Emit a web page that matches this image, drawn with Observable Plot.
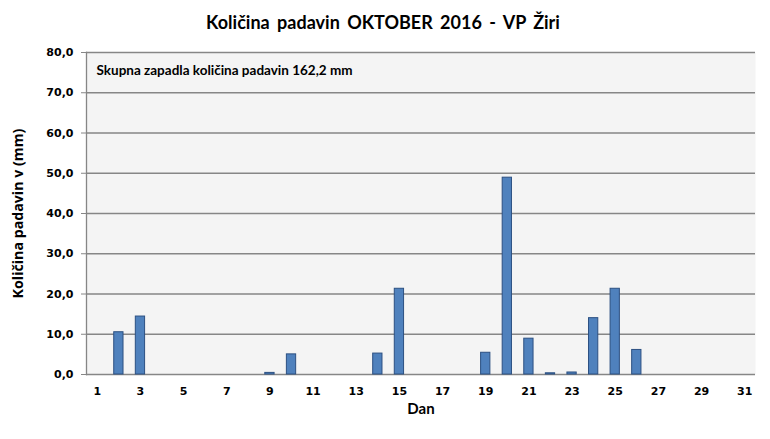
<!DOCTYPE html>
<html><head><meta charset="utf-8">
<script src="https://cdn.jsdelivr.net/npm/d3@7"></script>
<script src="https://cdn.jsdelivr.net/npm/@observablehq/plot@0.6"></script>
<style>
body{margin:0;background:#fff;}
#title{width:770px;height:40px;line-height:44px;text-align:center;font-family:Lato,"Open Sans",sans-serif;font-weight:bold;font-size:18px;word-spacing:3px;color:#000;padding-right:4px;box-sizing:border-box;}
</style></head>
<body>
<div id="title">Količina padavin OKTOBER 2016 - VP Žiri</div>
<div id="chart"></div>
<script>
const days = [1,2,3,4,5,6,7,8,9,10,11,12,13,14,15,16,17,18,19,20,21,22,23,24,25,26,27,28,29,30,31];
const rain = [0,10.5,14.4,0,0,0,0,0,0.4,5.0,0,0,0,5.2,21.3,0,0,0,5.4,48.9,8.9,0.3,0.5,14.0,21.3,6.1,0,0,0,0,0];
const xTicks = [1,3,5,7,9,11,13,15,17,19,21,23,25,27,29,31];
const yTicks = [0,10,20,30,40,50,60,70,80];
const annotation = "Skupna zapadla količina padavin 162,2 mm";
const yLabel = "Količina padavin v (mm)";
const xLabel = "Dan";

const data = days.map((d,i)=>({day:d, value:rain[i]})).filter(d=>d.value>0);
const grid = "#868686";
const fontB = {fontWeight:"bold", fill:"#000"};

const chart = Plot.plot({
  width:770, height:399,
  marginLeft:86, marginRight:15, marginTop:12, marginBottom:65,
  style:{fontFamily:"'DejaVu Sans', sans-serif", fontSize:"11px", background:"#fff", color:"#000"},
  x:{type:"band", domain:days, paddingInner:0.57, paddingOuter:0.285, round:false},
  y:{domain:[0,80]},
  marks:[
    Plot.frame({fill:"#f4f4f4", stroke:"none"}),
    Plot.gridY(yTicks.filter(t=>t>0), {stroke:grid, strokeOpacity:1, strokeWidth:1.3}),
    Plot.ruleY([0], {stroke:grid, strokeWidth:1.3}),
    Plot.frame({anchor:"left", stroke:grid, strokeWidth:1.3}),
    Plot.barY(data, {x:"day", y:"value", fill:"#4f81bd", stroke:"#2c5082", strokeWidth:1}),
    Plot.axisY({ticks:yTicks, tickFormat:d=>d.toFixed(1).replace(".",","), tickSize:5, tickPadding:8, stroke:grid, fontWeight:"bold", label:null}),
    Plot.axisX({ticks:xTicks, tickSize:0, tickPadding:13, fontWeight:"bold", fontSize:11, label:null}),
    Plot.text([xLabel], {frameAnchor:"bottom", dy:39, fontSize:15, fontFamily:"Lato, sans-serif", ...fontB}),
    Plot.text([yLabel], {frameAnchor:"left", dx:-68, rotate:-90, textAnchor:"middle", fontSize:14.2, fontFamily:"'Open Sans', sans-serif", ...fontB}),
    Plot.text([annotation], {frameAnchor:"top-left", dx:10, dy:13, textAnchor:"start", fontSize:13.5, fontFamily:"Lato, sans-serif", ...fontB})
  ]
});
document.getElementById("chart").appendChild(chart);
</script>
</body></html>
